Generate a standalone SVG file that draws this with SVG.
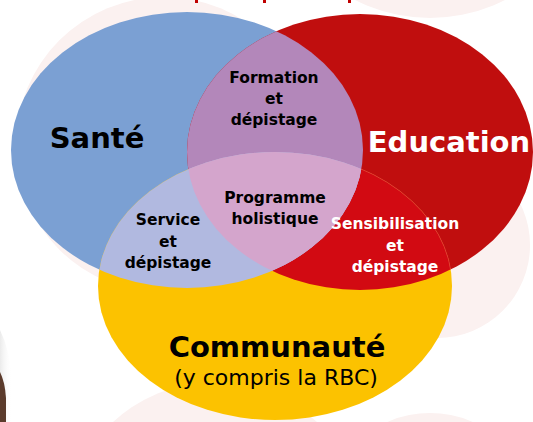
<svg xmlns="http://www.w3.org/2000/svg" width="533" height="422" viewBox="0 0 533 422">
<style>
.bg{fill:#FBF1F0}
.lbl{font-family:"DejaVu Sans","Liberation Sans",sans-serif;font-weight:bold;text-anchor:middle}
.big{font-size:29px}
.sm{font-size:15.5px}
.blk{fill:#000}
.wht{fill:#fff}
</style>
<defs>
<clipPath id="cBlue"><ellipse cx="187" cy="150" rx="176" ry="138"/></clipPath>
<clipPath id="cRed"><ellipse cx="360" cy="152" rx="173" ry="138"/></clipPath>
<linearGradient id="glow" x1="0" y1="0" x2="1" y2="0">
<stop offset="0" stop-color="#e2e2e2"/><stop offset="1" stop-color="#ffffff" stop-opacity="0"/>
</linearGradient>
</defs>
<rect width="533" height="422" fill="#fff"/>
<g id="background">
<circle class="bg" cx="164" cy="145" r="148"/>
<circle class="bg" cx="430" cy="-147" r="165"/>
<circle class="bg" cx="437" cy="245" r="93"/>
<circle class="bg" cx="430" cy="520" r="107"/>
<circle class="bg" cx="215" cy="532" r="150"/>
<path d="M0 330 Q10 350 12 380 L12 422 L0 422 Z" fill="url(#glow)" opacity="0.7"/>
<path d="M0 372 Q5 382 6 398 L6 422 L0 422 Z" fill="#5b3b2c"/>
<rect x="195" y="0" width="3" height="3" fill="#C00000"/>
<rect x="263" y="0" width="3" height="3" fill="#C00000"/>
<rect x="348" y="0" width="3" height="3" fill="#C00000"/>
</g>
<g id="sante">
<ellipse cx="187" cy="150" rx="176" ry="138" fill="#7BA0D3"/>
</g>
<g id="education">
<ellipse cx="360" cy="152" rx="173" ry="138" fill="#C00E0E"/>
</g>
<g id="communaute">
<ellipse cx="275" cy="286" rx="177" ry="134" fill="#FCC200"/>
</g>
<g id="sensibilisation">
<ellipse cx="275" cy="286" rx="177" ry="134" fill="#D20A12" stroke="#E4474A" stroke-width="0.6" clip-path="url(#cRed)"/>
</g>
<g id="formation">
<ellipse cx="360" cy="152" rx="173" ry="138" fill="#B387BA" clip-path="url(#cBlue)"/>
</g>
<g id="service">
<ellipse cx="275" cy="286" rx="177" ry="134" fill="#B1B9E0" clip-path="url(#cBlue)"/>
</g>
<g id="programme">
<g clip-path="url(#cRed)"><ellipse cx="275" cy="286" rx="177" ry="134" fill="#D4A5CC" clip-path="url(#cBlue)"/></g>
</g>
<g id="labels">
<text class="lbl big blk" x="97" y="148">Santé</text>
<text class="lbl big wht" x="449" y="152">Education</text>
<text class="lbl big blk" x="277" y="357">Communauté</text>
<text x="276" y="385" font-family="DejaVu Sans, Liberation Sans, sans-serif" font-size="22" text-anchor="middle" fill="#000">(y compris la RBC)</text>
<text class="lbl sm blk" x="274" y="83">Formation</text>
<text class="lbl sm blk" x="274" y="104">et</text>
<text class="lbl sm blk" x="274" y="125">dépistage</text>
<text class="lbl sm blk" x="275" y="203">Programme</text>
<text class="lbl sm blk" x="275" y="224">holistique</text>
<text class="lbl sm blk" x="168" y="225">Service</text>
<text class="lbl sm blk" x="168" y="247">et</text>
<text class="lbl sm blk" x="168" y="268">dépistage</text>
<text class="lbl sm wht" x="395" y="229">Sensibilisation</text>
<text class="lbl sm wht" x="395" y="251">et</text>
<text class="lbl sm wht" x="395" y="272">dépistage</text>
</g>
<g id="connectors"/>
</svg>
